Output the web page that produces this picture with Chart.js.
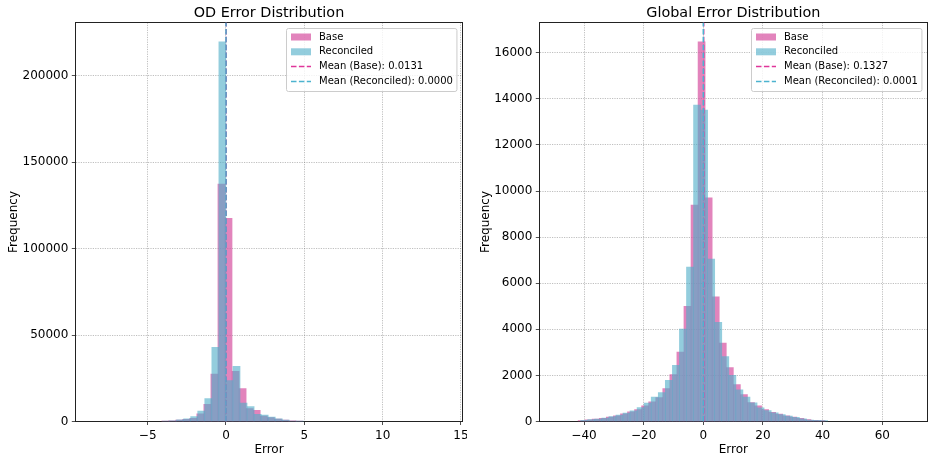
<!DOCTYPE html>
<html><head><meta charset="utf-8">
<script src="https://cdn.jsdelivr.net/npm/chart.js@4"></script>
<style>
html,body{margin:0;padding:0;background:#fff;}
#wrap{position:relative;width:934px;height:460px;overflow:hidden;}
canvas{position:absolute;top:0;}
</style></head><body>
<div id="wrap">
<canvas id="od" width="467" height="460" style="left:0"></canvas>
<canvas id="gl" width="467" height="460" style="left:467px"></canvas>
</div>
<script>
// ---------- OD Error Distribution ----------
const odTitle = 'OD Error Distribution';
const odBaseBins  = [-3.89,-3.44,-2.99,-2.54,-2.09,-1.64,-1.19,-0.74,-0.29,0.16,0.61,1.06,1.51,1.96,2.41,2.86,3.31,3.76,4.21,4.66];
const odBase      = [150,400,800,1300,1800,4400,9900,27400,137300,117600,29000,19100,7500,6400,3100,2300,1350,770,400,150];
const odReconBins = [-3.83,-3.38,-2.93,-2.48,-2.03,-1.58,-1.13,-0.68,-0.23,0.22,0.67,1.12,1.57,2.02,2.47,2.92,3.37,3.82,4.27,4.72];
const odRecon     = [150,400,900,1500,2800,6000,13300,42900,219600,23700,31900,10600,8700,4200,3700,2500,1550,770,200,100];
const odMeanBase = 0.0131;
const odMeanRecon = 0.0000;
const odXTicks = [-5,0,5,10,15];
const odYTicks = [0,50000,100000,150000,200000];

// ---------- Global Error Distribution ----------
const glTitle = 'Global Error Distribution';
const glBaseBins  = [-40.80,-38.43,-36.07,-33.70,-31.34,-28.97,-26.60,-24.24,-21.87,-19.51,-17.14,-14.77,-12.41,-10.04,-7.68,-5.31,-2.94,-0.58,1.79,4.16,6.52,8.89,11.25,13.62,15.99,18.35,20.72,23.08,25.45,27.82,30.18,32.55,34.92,37.28,39.65];
const glBase      = [40,70,100,140,190,250,330,420,520,680,854,1040,1430,2040,3010,5000,9390,16470,9700,5410,3400,2340,1600,1170,825,680,520,400,320,250,190,140,80,50,40];
const glReconBins = [-39.95,-37.58,-35.22,-32.85,-30.48,-28.12,-25.75,-23.39,-21.02,-18.66,-16.29,-13.92,-11.56,-9.19,-6.83,-4.46,-2.09,0.27,2.64,5.01,7.37,9.74,12.10,14.47,16.84,19.20,21.57,23.93,26.30,28.67,31.03,33.40,35.76,38.13,40.50];
const glRecon     = [50,80,110,150,210,280,370,460,600,800,1056,1260,1790,2440,4010,6700,13730,13515,7050,4300,2820,2000,1375,1056,810,590,477,380,300,230,180,120,60,50,40];
const glMeanBase = 0.1327;
const glMeanRecon = 0.0001;
const glXTicks = [-40,-20,0,20,40,60];
const glYTicks = [0,2000,4000,6000,8000,10000,12000,14000,16000];

// ---------- styling ----------
const FONT = '"DejaVu Sans", "Liberation Sans", sans-serif';
Chart.defaults.font.family = FONT;
Chart.defaults.color = '#000';
const BASE_FILL = 'rgba(214,80,160,0.70)';
const RECON_FILL = 'rgba(80,175,200,0.62)';
const BASE_LINE = '#e0369a';
const RECON_LINE = '#4cb3cf';
const SPINE = '#222';
const GRID = 'rgba(120,120,120,0.6)';

const fmtMinus = v => (v < 0 ? '\u2212' + Math.abs(v) : String(v));

const boxLegend = {
  id: 'boxLegend',
  afterDatasetsDraw(chart) {
    const ctx = chart.ctx, ca = chart.chartArea;
    const ds = chart.data.datasets;
    const fs = 10;
    ctx.save();
    ctx.font = fs + 'px ' + FONT;
    const tw = Math.max(...ds.map(d => ctx.measureText(d.label).width));
    const pad = 4.5, handle = 20, gap = 8, rowH = 14.8;
    const w = pad + handle + gap + tw + 4;
    const h = 63;
    const x0 = Math.round(ca.right - 6 - w) + 0.5, y0 = Math.round(ca.top + 6) + 0.5;
    const r = 2;
    ctx.beginPath();
    ctx.moveTo(x0 + r, y0);
    ctx.lineTo(x0 + w - r, y0); ctx.arcTo(x0 + w, y0, x0 + w, y0 + r, r);
    ctx.lineTo(x0 + w, y0 + h - r); ctx.arcTo(x0 + w, y0 + h, x0 + w - r, y0 + h, r);
    ctx.lineTo(x0 + r, y0 + h); ctx.arcTo(x0, y0 + h, x0, y0 + h - r, r);
    ctx.lineTo(x0, y0 + r); ctx.arcTo(x0, y0, x0 + r, y0, r);
    ctx.closePath();
    ctx.fillStyle = 'rgba(255,255,255,0.8)';
    ctx.fill();
    ctx.strokeStyle = '#cccccc';
    ctx.lineWidth = 1;
    ctx.stroke();
    ds.forEach((d, i) => {
      const cy = y0 + 8.5 + i * rowH;
      const hx = x0 + pad;
      if (d.type === 'line') {
        ctx.save();
        ctx.strokeStyle = d.borderColor;
        ctx.lineWidth = d.borderWidth;
        ctx.setLineDash(d.borderDash);
        ctx.beginPath(); ctx.moveTo(hx, cy); ctx.lineTo(hx + handle, cy); ctx.stroke();
        ctx.restore();
      } else {
        ctx.fillStyle = d.backgroundColor;
        ctx.fillRect(hx, cy - 3.5, handle, 7);
      }
      ctx.fillStyle = '#000';
      ctx.textBaseline = 'middle';
      ctx.textAlign = 'left';
      ctx.fillText(d.label, hx + handle + gap, cy);
    });
    ctx.restore();
  }
};

function makeChart(id, o) {
  const axisCommon = {
    grid: { color: GRID, lineWidth: 0.8, tickLength: 3.5, tickColor: SPINE, tickWidth: 0.8, offset: false },
    border: { color: SPINE, width: 1, dash: [1.2, 1.2] },
  };
  return new Chart(document.getElementById(id), {
    type: 'bar',
    data: {
      datasets: [
        { type: 'bar', label: 'Base', data: o.baseBins.map((x, i) => ({ x: x, y: o.base[i] })),
          xAxisID: 'x', yAxisID: 'y', backgroundColor: BASE_FILL, borderWidth: 0,
          categoryPercentage: 1, barPercentage: 1, grouped: false, order: 3 },
        { type: 'bar', label: 'Reconciled', data: o.reconBins.map((x, i) => ({ x: x, y: o.recon[i] })),
          xAxisID: 'x2', yAxisID: 'y', backgroundColor: RECON_FILL, borderWidth: 0,
          categoryPercentage: 1, barPercentage: 1, grouped: false, order: 2 },
        { type: 'line', label: 'Mean (Base): ' + o.meanBase.toFixed(4),
          data: [{ x: o.meanBase, y: 0 }, { x: o.meanBase, y: o.yMax }],
          xAxisID: 'x', yAxisID: 'y', borderColor: BASE_LINE, borderWidth: 1.5, borderDash: [5.5, 2.4],
          pointRadius: 0, fill: false, order: 1 },
        { type: 'line', label: 'Mean (Reconciled): ' + o.meanRecon.toFixed(4),
          data: [{ x: o.meanRecon, y: 0 }, { x: o.meanRecon, y: o.yMax }],
          xAxisID: 'x', yAxisID: 'y', borderColor: RECON_LINE, borderWidth: 1.5, borderDash: [5.5, 2.4],
          pointRadius: 0, fill: false, order: 0 },
      ]
    },
    options: {
      responsive: false,
      animation: false,
      devicePixelRatio: 1,
      layout: { autoPadding: false, padding: { left: 0, right: o.rightPad, top: 0, bottom: 0 } },
      plugins: {
        legend: { display: false },
        tooltip: { enabled: false },
        title: { display: true, text: o.title, fullSize: false, color: '#000',
                 font: { family: FONT, size: 14.4, weight: 'normal', lineHeight: 1.2 },
                 padding: { top: 4.5, bottom: 0.7 } },
      },
      scales: {
        x: Object.assign({}, axisCommon, {
          type: 'linear', position: 'bottom', min: o.xMin, max: o.xMax, offset: false,
          afterBuildTicks: s => { s.ticks = o.xTicks.map(v => ({ value: v })); },
          ticks: { font: { size: 12 }, padding: 3.5, color: '#000', maxRotation: 0, autoSkip: false, callback: v => fmtMinus(v) },
          title: { display: true, text: 'Error', color: '#000', font: { size: 12 }, padding: { top: 0, bottom: 2.5 } },
          afterFit: s => { s.height = 38.5; s.paddingLeft = 0; s.paddingRight = 0; },
        }),
        x2: {
          type: 'linear', position: 'top', min: o.xMin, max: o.xMax, offset: false,
          grid: { display: false, offset: false }, ticks: { display: false },
          border: { display: true, color: SPINE, width: 1 },
          afterFit: s => { s.height = 0; s.paddingLeft = 0; s.paddingRight = 0; },
        },
        y: Object.assign({}, axisCommon, {
          type: 'linear', position: 'left', min: 0, max: o.yMax,
          afterBuildTicks: s => { s.ticks = o.yTicks.map(v => ({ value: v })); },
          ticks: { font: { size: 12 }, padding: 3.5, color: '#000', callback: v => String(v) },
          title: { display: true, text: 'Frequency', color: '#000', font: { size: 12 }, padding: { top: o.yTitlePad, bottom: 0 } },
          afterFit: s => { s.width = o.yAxisWidth; },
        }),
        y2: {
          type: 'linear', position: 'right', min: 0, max: 1,
          grid: { display: false }, ticks: { display: false },
          border: { display: true, color: SPINE, width: 1 },
          afterFit: s => { s.width = 0; },
        },
      }
    },
    plugins: [boxLegend]
  });
}

makeChart('od', {
  title: odTitle, baseBins: odBaseBins, base: odBase, reconBins: odReconBins, recon: odRecon,
  meanBase: odMeanBase, meanRecon: odMeanRecon, xTicks: odXTicks, yTicks: odYTicks,
  xMin: -9.62, xMax: 15.11, yMax: 230850, yAxisWidth: 75.3, rightPad: 4.3, yTitlePad: 7
});
makeChart('gl', {
  title: glTitle, baseBins: glBaseBins, base: glBase, reconBins: glReconBins, recon: glRecon,
  meanBase: glMeanBase, meanRecon: glMeanRecon, xTicks: glXTicks, yTicks: glYTicks,
  xMin: -54.99, xMax: 75.1, yMax: 17314, yAxisWidth: 72.3, rightPad: 6.7, yTitlePad: 11.8
});
</script>
</body></html>
